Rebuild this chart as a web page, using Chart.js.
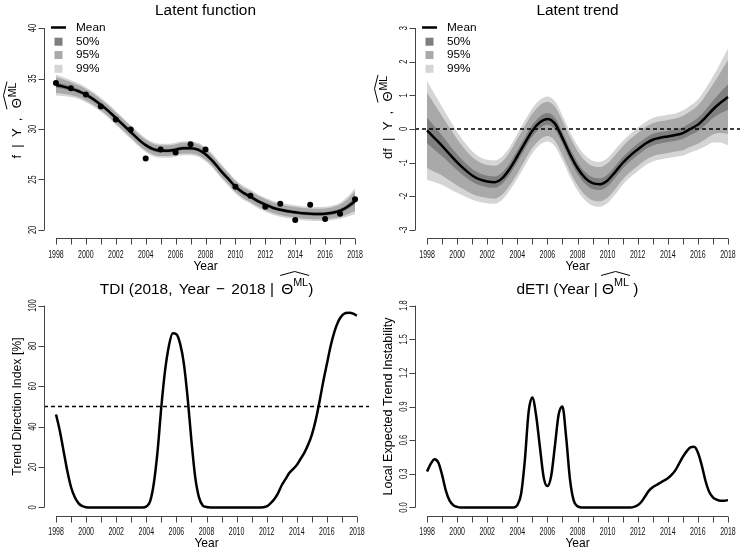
<!DOCTYPE html>
<html><head><meta charset="utf-8">
<script src="https://cdn.jsdelivr.net/npm/chart.js@4"></script>
<style>
html,body{margin:0;padding:0;background:#fff;}
#wrap{position:relative;width:742px;height:553px;overflow:hidden;background:#fff;}
canvas{position:absolute;}
</style></head><body>
<div id="wrap">
<canvas id="c1" width="371" height="276" style="left:0;top:0"></canvas>
<canvas id="c2" width="371" height="276" style="left:371px;top:0"></canvas>
<canvas id="c3" width="371" height="291" style="left:0;top:262px"></canvas>
<canvas id="c4" width="371" height="291" style="left:371px;top:262px"></canvas>
</div>
<script>
// ---------- data ----------
const xTicks = [1998,1999,2000,2001,2002,2003,2004,2005,2006,2007,2008,2009,2010,2011,2012,2013,2014,2015,2016,2017,2018];
const xTickLabels = ['1998','','2000','','2002','','2004','','2006','','2008','','2010','','2012','','2014','','2016','','2018'];

const obsYears  = [1998,1999,2000,2001,2002,2003,2004,2005,2006,2007,2008,2010,2011,2012,2013,2014,2015,2016,2017,2018];
const obsValues = [34.57,34.04,33.42,32.23,30.95,29.96,27.07,27.96,27.66,28.48,27.96,24.27,23.38,22.29,22.59,20.98,22.49,21.08,21.60,23.05];

const halfYears = [1998,1998.5,1999,1999.5,2000,2000.5,2001,2001.5,2002,2002.5,2003,2003.5,2004,2004.5,2005,2005.5,2006,2006.5,2007,2007.5,2008,2008.5,2009,2009.5,2010,2010.5,2011,2011.5,2012,2012.5,2013,2013.5,2014,2014.5,2015,2015.5,2016,2016.5,2017,2017.5,2018];

const fMean = [34.35,34.2,34.0,33.75,33.4,32.95,32.4,31.8,31.1,30.4,29.7,29.0,28.4,28.0,27.85,27.85,27.95,28.1,28.1,27.95,27.5,26.8,25.9,25.1,24.3,23.7,23.3,22.85,22.5,22.2,22.0,21.85,21.75,21.65,21.6,21.58,21.6,21.7,21.9,22.3,22.85];
const fSd   = [0.40,0.36,0.32,0.30,0.29,0.28,0.27,0.27,0.27,0.27,0.27,0.27,0.27,0.27,0.27,0.27,0.27,0.27,0.27,0.27,0.27,0.27,0.27,0.27,0.27,0.27,0.27,0.27,0.27,0.27,0.27,0.27,0.27,0.27,0.27,0.27,0.27,0.28,0.31,0.38,0.50];

const dfMean = [-0.04,-0.27,-0.50,-0.75,-0.99,-1.20,-1.38,-1.50,-1.56,-1.58,-1.46,-1.18,-0.81,-0.42,-0.05,0.20,0.30,0.16,-0.27,-0.75,-1.16,-1.45,-1.61,-1.64,-1.53,-1.28,-1.01,-0.79,-0.61,-0.44,-0.32,-0.26,-0.22,-0.18,-0.12,0.00,0.13,0.34,0.58,0.78,0.95];
const dfSd   = [0.57,0.51,0.45,0.40,0.35,0.31,0.28,0.26,0.25,0.25,0.25,0.25,0.26,0.26,0.26,0.26,0.26,0.26,0.26,0.26,0.26,0.26,0.26,0.26,0.26,0.26,0.25,0.25,0.25,0.25,0.25,0.25,0.25,0.25,0.26,0.27,0.29,0.33,0.38,0.46,0.56];

const bandLabels = ['50%','95%','99%'];
const bandZ      = [0.674,1.960,2.576];

const quarterYears = [1998,1998.25,1998.5,1998.75,1999,1999.25,1999.5,1999.75,2000,2000.25,2000.5,2000.75,2001,2001.25,2001.5,2001.75,2002,2002.25,2002.5,2002.75,2003,2003.25,2003.5,2003.75,2004,2004.25,2004.5,2004.75,2005,2005.25,2005.5,2005.75,2006,2006.25,2006.5,2006.75,2007,2007.25,2007.5,2007.75,2008,2008.25,2008.5,2008.75,2009,2009.25,2009.5,2009.75,2010,2010.25,2010.5,2010.75,2011,2011.25,2011.5,2011.75,2012,2012.25,2012.5,2012.75,2013,2013.25,2013.5,2013.75,2014,2014.25,2014.5,2014.75,2015,2015.25,2015.5,2015.75,2016,2016.25,2016.5,2016.75,2017,2017.25,2017.5,2017.75,2018];

const tdiValues = [46,38,28,18,10,5,2,0.6,0.1,
  0,0,0,0,0,0,0,0,0,0,0,0,0,0,0,
  0.5,3,12,28,50,68,80,86.3,85.8,81,71,54,33,15,5,1,
  0.2,
  0,0,0,0,0,0,0,0,0,0,0,0,0,0,0.1,
  0.5,2,4,7,11,14,17,19,21,24,27,31,36,43,52,62,
  71,80,87,92,95,96.3,96.5,96,95];

const detiValues = [0.32,0.39,0.43,0.40,0.29,0.15,0.06,0.02,0.005,
  0,0,0,0,0,0,0,0,0,0,0,0,0,0,0,
  0.02,0.12,0.42,0.85,0.98,0.82,0.54,0.27,0.19,0.28,0.55,0.83,0.90,0.62,0.25,0.06,
  0.01,
  0,0,0,0,0,0,0,0,0,0,0,0,0,0,0.005,
  0.02,0.05,0.10,0.15,0.18,0.20,0.22,0.24,0.26,0.29,0.33,0.39,0.45,0.50,0.535,0.54,
  0.49,0.38,0.24,0.14,0.09,0.07,0.06,0.06,0.065];

const fTicks = [20,25,30,35,40];
const dfTicks = [-3,-2,-1,0,1,2,3];
const tdiTicks = [0,20,40,60,80,100];
const detiTicks = [0,0.3,0.6,0.9,1.2,1.5,1.8];
const detiTickLabels = ['0.0','0.3','0.6','0.9','1.2','1.5','1.8'];

// ---------- styling ----------
const FONT = '"Liberation Sans", Arial, Helvetica, sans-serif';
const AXIS = '#444';
const BAND_COLORS = ['#7f7f7f','#a9a9a9','#d5d5d5'];

function pts(xs, ys){ return xs.map((x,i)=>({x:x, y:ys[i]})); }

function bandDatasets(xs, mean, sd){
  const out = [];
  for (let k=0;k<bandZ.length;k++){
    const lo = mean.map((m,i)=>m - bandZ[k]*sd[i]);
    const hi = mean.map((m,i)=>m + bandZ[k]*sd[i]);
    out.push({data: pts(xs, lo), borderColor:'transparent', borderWidth:1, pointRadius:0, fill:false, cubicInterpolationMode:'monotone'});
    out.push({data: pts(xs, hi), borderColor:'transparent', borderWidth:1, pointRadius:0, fill:'-1', backgroundColor: BAND_COLORS[k], cubicInterpolationMode:'monotone'});
  }
  return out;
}

function measure(ctx, pieces){
  let w = 0; const items = [];
  for (const p of pieces){ ctx.font = p.s + 'px ' + FONT; const pw = ctx.measureText(p.t).width; items.push(Object.assign({}, p, {x:w, w:pw})); w += pw + (p.gap||0); }
  return {items, width:w};
}
function render(ctx, m, sx, by, hat){
  ctx.fillStyle = '#000';
  for (const it of m.items){ ctx.font = it.s + 'px ' + FONT; ctx.fillText(it.t, sx + it.x, by + (it.dy||0)); }
  if (hat){
    const a = m.items[hat.from], b = m.items[hat.to];
    const xL = sx + a.x - 1, xR = sx + b.x + b.w + 1;
    ctx.strokeStyle = '#000'; ctx.lineWidth = 1; ctx.setLineDash([]);
    ctx.beginPath(); ctx.moveTo(xL, by + hat.y1); ctx.lineTo((xL+xR)/2, by + hat.y0); ctx.lineTo(xR, by + hat.y1); ctx.stroke();
  }
}

const rPlot = {
  id: 'rPlot',
  afterDatasetsDraw(chart, args, o){
    const ctx = chart.ctx, xs = chart.scales.x, ys = chart.scales.y, ca = chart.chartArea;
    ctx.save();
    ctx.textBaseline = 'alphabetic';
    // dashed reference line
    if (o.hline !== undefined){
      const y = ys.getPixelForValue(o.hline);
      ctx.strokeStyle = '#000'; ctx.lineWidth = 1.3; ctx.setLineDash([4,3]);
      ctx.beginPath(); ctx.moveTo(ca.left, y); ctx.lineTo(ca.right, y); ctx.stroke();
      ctx.setLineDash([]);
    }
    // x axis
    const yb = Math.round(ca.bottom) + 0.5;
    ctx.strokeStyle = AXIS; ctx.lineWidth = 1;
    ctx.beginPath();
    ctx.moveTo(xs.getPixelForValue(xTicks[0]), yb); ctx.lineTo(xs.getPixelForValue(xTicks[xTicks.length-1]), yb);
    xTicks.forEach(v=>{ const x = Math.round(xs.getPixelForValue(v)) + 0.5; ctx.moveTo(x, yb); ctx.lineTo(x, yb + 6); });
    ctx.stroke();
    ctx.fillStyle = '#111'; ctx.font = o.tickFont + 'px ' + FONT; ctx.textAlign = 'center';
    xTicks.forEach((v,i)=>{
      if (!xTickLabels[i]) return;
      ctx.save(); ctx.translate(xs.getPixelForValue(v), ca.bottom + 19.5); ctx.scale(0.7, 1);
      ctx.fillText(xTickLabels[i], 0, 0); ctx.restore();
    });
    // y axis
    const xl = Math.round(ca.left) + 0.5;
    ctx.beginPath();
    ctx.moveTo(xl, ys.getPixelForValue(o.yTicks[0])); ctx.lineTo(xl, ys.getPixelForValue(o.yTicks[o.yTicks.length-1]));
    o.yTicks.forEach(v=>{ const y = Math.round(ys.getPixelForValue(v)) + 0.5; ctx.moveTo(xl, y); ctx.lineTo(xl - 6, y); });
    ctx.stroke();
    o.yTicks.forEach((v,i)=>{
      ctx.save(); ctx.translate(ca.left - 8.5, ys.getPixelForValue(v)); ctx.rotate(-Math.PI/2); ctx.scale(0.75, 1);
      ctx.textAlign = 'center'; ctx.font = o.tickFont + 'px ' + FONT;
      ctx.fillText(o.yTickLabels ? o.yTickLabels[i] : String(v), 0, 0);
      ctx.restore();
    });
    // x label
    ctx.fillStyle = '#000';
    ctx.textAlign = 'center'; ctx.font = '12px ' + FONT;
    ctx.fillText('Year', (ca.left + ca.right)/2, ca.bottom + 31.5);
    ctx.textAlign = 'left';
    // title
    const mt = measure(ctx, o.title);
    render(ctx, mt, (ca.left + ca.right)/2 - mt.width/2, ca.top + o.titleDy, o.titleHat);
    // y label (rotated)
    const ml = measure(ctx, o.ylabel);
    ctx.save(); ctx.translate(20.5, o.ylabelStart !== undefined ? ca.top + o.ylabelStart : (ca.top + ca.bottom)/2 + ml.width/2);
    ctx.rotate(-Math.PI/2);
    render(ctx, ml, 0, 0, o.ylabelHat);
    ctx.restore();
    // legend
    if (o.legend){
      const lx = ca.left, ly = ca.top;
      ctx.strokeStyle = '#000'; ctx.lineWidth = 2.5;
      ctx.beginPath(); ctx.moveTo(lx + 7, ly + 7.5); ctx.lineTo(lx + 22, ly + 7.5); ctx.stroke();
      ctx.font = '11.8px ' + FONT; ctx.textBaseline = 'middle'; ctx.fillStyle = '#000';
      ctx.fillText('Mean', lx + 32, ly + 7.5);
      const rows = [21.7, 35, 48.8];
      bandLabels.forEach((lab,k)=>{
        ctx.fillStyle = BAND_COLORS[k];
        ctx.fillRect(lx + 10.5, ly + rows[k] - 4, 8, 8);
        ctx.fillStyle = '#000';
        ctx.fillText(lab, lx + 32, ly + rows[k]);
      });
    }
    ctx.restore();
  }
};

function makeChart(id, datasets, yMin, yMax, padTop, padBottom, opts){
  return new Chart(document.getElementById(id), {
    type: 'line',
    data: { datasets: datasets },
    options: {
      responsive: false, animation: false, devicePixelRatio: 1,
      layout: { padding: { left: 44, right: 2, top: padTop, bottom: padBottom } },
      scales: {
        x: { type: 'linear', min: 1997.2, max: 2018.8, display: false },
        y: { type: 'linear', min: yMin, max: yMax, display: false }
      },
      plugins: { legend: { display: false }, tooltip: { enabled: false }, title: {display:false}, rPlot: opts },
      events: []
    },
    plugins: [rPlot]
  });
}

const TF = 15.4, TICK = 10;
const YL = 13;

// Panel 1: latent function
makeChart('c1', [
  { data: pts(obsYears, obsValues), showLine: false, pointRadius: 3, pointBackgroundColor: '#000', pointBorderWidth: 0, borderColor: '#000' },
  { data: pts(halfYears, fMean), borderColor: '#000', borderWidth: 2.5, pointRadius: 0, cubicInterpolationMode: 'monotone', fill: false },
  ...bandDatasets(halfYears, fMean, fSd)
], 19.2, 40.8, 20, 38, {
  yTicks: fTicks, tickFont: TICK, legend: true,
  title: [{t:'Latent function', s:TF}], titleDy: -5,
  ylabel: [{t:'f  |  Y  ,  ', s:YL, gap:2},{t:'\u0398', s:YL, gap:1},{t:'ML', s:10.5, dy:-4.5}],
  ylabelHat: {from:1, to:2, y0:-17, y1:-13.5}, ylabelStart: 138.5
});

// Panel 2: latent trend
makeChart('c2', [
  { data: pts(halfYears, dfMean), borderColor: '#000', borderWidth: 2.5, pointRadius: 0, cubicInterpolationMode: 'monotone', fill: false },
  ...bandDatasets(halfYears, dfMean, dfSd)
], -3.24, 3.24, 20, 38, {
  yTicks: dfTicks, tickFont: TICK, legend: true, hline: 0,
  title: [{t:'Latent trend', s:TF}], titleDy: -5,
  ylabel: [{t:'df  |  Y  ,  ', s:YL, gap:2},{t:'\u0398', s:YL, gap:1},{t:'ML', s:10.5, dy:-4.5}],
  ylabelHat: {from:1, to:2, y0:-17, y1:-13.5}, ylabelStart: 139
});

// Panel 3: TDI
makeChart('c3', [
  { data: pts(quarterYears, tdiValues), borderColor: '#000', borderWidth: 2.5, pointRadius: 0, cubicInterpolationMode: 'monotone', fill: false }
], -4, 104, 35.5, 37.5, {
  yTicks: tdiTicks, tickFont: TICK, hline: 50,
  title: [{t:'TDI (2018,', s:TF, gap:2},{t:' Year ', s:TF, gap:2},{t:'\u2212', s:TF, gap:2},{t:' 2018 | ', s:TF, gap:3},{t:'\u0398', s:TF},{t:'ML', s:10.8, dy:-7.5},{t:')', s:TF}],
  titleDy: -4, titleHat: {from:4, to:5, y0:-22, y1:-18},
  ylabel: [{t:'Trend Direction Index [%]', s:12.3}]
});

// Panel 4: dETI
makeChart('c4', [
  { data: pts(quarterYears, detiValues), borderColor: '#000', borderWidth: 2.5, pointRadius: 0, cubicInterpolationMode: 'monotone', fill: false }
], -0.072, 1.872, 35.5, 37.5, {
  yTicks: detiTicks, yTickLabels: detiTickLabels, tickFont: TICK,
  title: [{t:'dETI (Year | ', s:TF},{t:'\u0398', s:TF},{t:'ML', s:10.8, dy:-7.5},{t:' )', s:TF}],
  titleDy: -4, titleHat: {from:1, to:2, y0:-22, y1:-18},
  ylabel: [{t:'Local Expected Trend Instability', s:12.6}]
});
</script>
</body></html>
